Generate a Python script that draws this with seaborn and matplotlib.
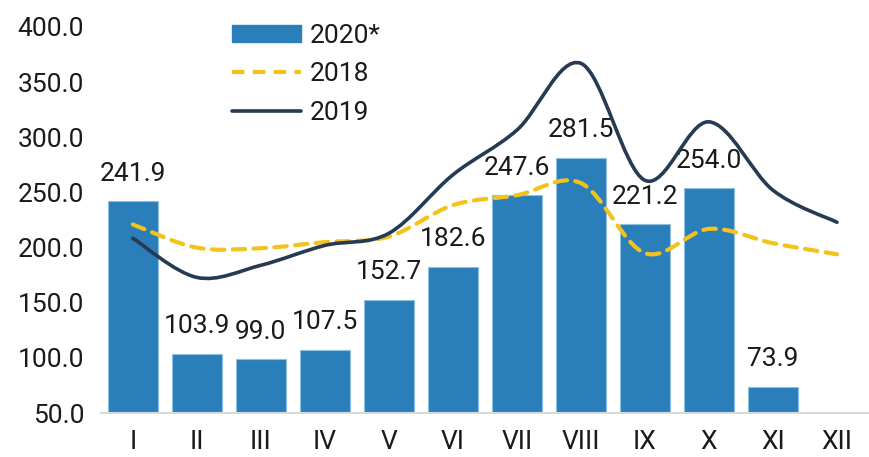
import seaborn as sns
import pandas as pd
import matplotlib.pyplot as plt
from matplotlib.path import Path
from matplotlib.patches import PathPatch
from matplotlib.lines import Line2D

months = ["I", "II", "III", "IV", "V", "VI", "VII", "VIII", "IX", "X", "XI", "XII"]
val_2020 = [241.9, 103.9, 99.0, 107.5, 152.7, 182.6, 247.6, 281.5, 221.2, 254.0, 73.9, 49.0]
val_2018 = [221.0, 200.0, 199.5, 205.0, 210.0, 238.5, 247.5, 258.5, 195.0, 217.0, 204.0, 194.0]
val_2019 = [208.5, 173.0, 184.0, 202.0, 213.0, 266.0, 306.5, 367.0, 261.0, 314.0, 252.0, 223.0]


def smooth_path(xs, ys):
    # excel-like smoothed line: bezier segments through the points
    n = len(xs)
    verts = [(xs[0], ys[0])]
    codes = [Path.MOVETO]
    for i in range(n - 1):
        x0, y0 = (xs[i - 1], ys[i - 1]) if i > 0 else (xs[i], ys[i])
        x3, y3 = (xs[i + 2], ys[i + 2]) if i + 2 < n else (xs[i + 1], ys[i + 1])
        c1 = (xs[i] + (xs[i + 1] - x0) / 6, ys[i] + (ys[i + 1] - y0) / 6)
        c2 = (xs[i + 1] - (x3 - xs[i]) / 6, ys[i + 1] - (y3 - ys[i]) / 6)
        verts += [c1, c2, (xs[i + 1], ys[i + 1])]
        codes += [Path.CURVE4] * 3
    return Path(verts, codes)


sns.set_theme(style="white")
plt.rcParams['font.family'] = ['Roboto', 'DejaVu Sans']
txt_col = "#1a1a1a"

df = pd.DataFrame({"month": months, "2020*": val_2020})

fig = plt.figure(figsize=(8.69, 4.57), dpi=100)
ax = fig.add_axes([0.116, 0.096, 0.884, 0.845])

bar_col = "#2a7fba"
sns.barplot(data=df, x="month", y="2020*", color=bar_col, width=0.78,
            saturation=1, edgecolor="#8fc0e0", linewidth=0.8, ax=ax)

xs = list(range(len(months)))
p18 = PathPatch(smooth_path(xs, val_2018), fill=False, edgecolor="#f2c31c",
                lw=3, linestyle=(0, (3, 2)), capstyle="round", zorder=4)
p19 = PathPatch(smooth_path(xs, val_2019), fill=False, edgecolor="#263a52",
                lw=2.6, capstyle="round", zorder=4)
ax.add_patch(p18)
ax.add_patch(p19)

for i, v in enumerate(val_2020):
    if v <= 50:
        continue
    ax.text(i, v + 14, "{:.1f}".format(v), ha="center", va="bottom",
            fontsize=19, color=txt_col)

ax.set_ylim(50, 400)
ax.set_xlim(-0.5, 11.5)
ax.set_yticks([50, 100, 150, 200, 250, 300, 350, 400])
ax.set_yticklabels(["{:.1f}".format(t) for t in ax.get_yticks()])
ax.tick_params(axis="y", labelsize=19, pad=12, colors=txt_col, length=0)
ax.tick_params(axis="x", labelsize=19, pad=12, colors=txt_col, length=0)
ax.set_xlabel("")
ax.set_ylabel("")
for s in ["top", "right", "left"]:
    ax.spines[s].set_visible(False)
ax.spines["bottom"].set_color("#d9d9d9")
ax.spines["bottom"].set_linewidth(1.5)

handles = [
    plt.Rectangle((0, 0), 1, 1, color=bar_col),
    Line2D([0], [0], color="#f2c31c", lw=3, linestyle=(0, (3, 2))),
    Line2D([0], [0], color="#263a52", lw=2.6),
]
leg = ax.legend(handles, ["2020*", "2018", "2019"], loc="upper left",
                bbox_to_anchor=(0.14, 1.07), frameon=False, fontsize=19,
                handlelength=2.6, handleheight=0.6, labelspacing=0.55, handletextpad=0.35)
for t in leg.get_texts():
    t.set_color(txt_col)

plt.savefig("out.png", dpi=100)
